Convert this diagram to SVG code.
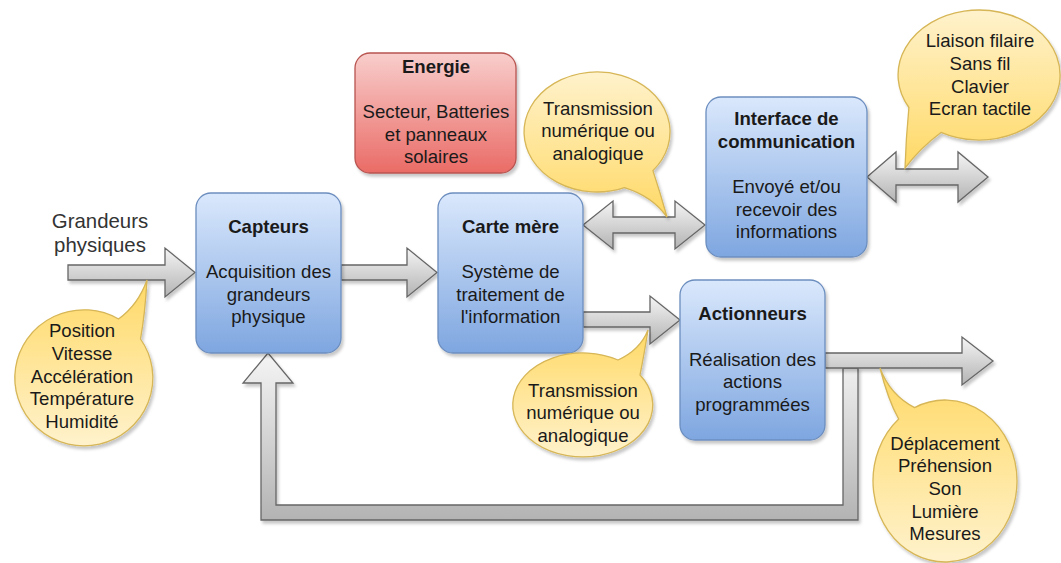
<svg xmlns="http://www.w3.org/2000/svg" width="1061" height="563" viewBox="0 0 1061 563">
<defs>
<linearGradient id="gBlue" x1="0" y1="0" x2="0" y2="1"><stop offset="0" stop-color="#dae8fc"/><stop offset="1" stop-color="#7ea6e0"/></linearGradient>
<linearGradient id="gRed" x1="0" y1="0" x2="0" y2="1"><stop offset="0" stop-color="#f8cecc"/><stop offset="1" stop-color="#ea6b66"/></linearGradient>
<linearGradient id="gGrey" x1="0" y1="0" x2="0" y2="1"><stop offset="0" stop-color="#f5f5f5"/><stop offset="1" stop-color="#b3b3b3"/></linearGradient>
<linearGradient id="gYelDown" x1="0" y1="0" x2="0" y2="1"><stop offset="0" stop-color="#ffd966"/><stop offset="1" stop-color="#fff2cc"/></linearGradient>
<linearGradient id="gYelUp" x1="0" y1="1" x2="0" y2="0"><stop offset="0" stop-color="#ffd966"/><stop offset="1" stop-color="#fff2cc"/></linearGradient>
<filter id="sh" x="-10%" y="-10%" width="130%" height="130%"><feDropShadow dx="2" dy="3" stdDeviation="1.5" flood-color="#000" flood-opacity="0.22"/></filter>
</defs>
<style>
.box{fill:url(#gBlue);stroke:#6c8ebf;stroke-width:1.3;filter:url(#sh)}
.red{fill:url(#gRed);stroke:#b85450;stroke-width:1.3;filter:url(#sh)}
.arr{fill:url(#gGrey);stroke:#666666;stroke-width:1.3;stroke-linejoin:miter;filter:url(#sh)}
.bub{stroke:#d6b656;stroke-width:1.3;filter:url(#sh)}
text{font-family:"Liberation Sans",Arial,sans-serif;font-size:18.6px;fill:#1a1a1a;text-anchor:middle}
.b{font-weight:bold}
.lbl{font-size:20.4px;fill:#333333}
</style>
<rect width="1061" height="563" fill="#ffffff"/>

<g id="connectors">
<polygon class="arr" points="843,368 843,505 276,505 276,383 293,383 268,353 243,383 261,383 261,520 858,520 858,368"/>
<polygon class="arr" points="68,265 165,265 165,248 195,272.5 165,297 165,280 68,280"/>
<polygon class="arr" points="341,265 407,265 407,248 437,272.5 407,297 407,280 341,280"/>
<polygon class="arr" points="583,225 613,201 613,217 675,217 675,201 705,225 675,249 675,233 613,233 613,249"/>
<polygon class="arr" points="867,177 896,152 896,169 958,169 958,152 988,177 958,202 958,185 896,185 896,202"/>
<polygon class="arr" points="583,312 650,312 650,296 680,320 650,344 650,327 583,327"/>
<polygon class="arr" points="825,353 962,353 962,337 993,361 962,385 962,368 825,368"/>
</g>

<g id="label-grandeurs">
<text class="lbl" x="100" y="228">Grandeurs</text>
<text class="lbl" x="100" y="252">physiques</text>
</g>

<g id="node-energie">
<rect class="red" x="355" y="53" width="161" height="120" rx="15"/>
<text class="b" x="436" y="73">Energie</text>
<text x="436" y="118">Secteur, Batteries</text>
<text x="436" y="141">et panneaux</text>
<text x="436" y="163">solaires</text>
</g>

<g id="node-capteurs">
<rect class="box" x="196" y="193" width="145" height="160" rx="15"/>
<text class="b" x="268.5" y="233">Capteurs</text>
<text x="268.5" y="278">Acquisition des</text>
<text x="268.5" y="301">grandeurs</text>
<text x="268.5" y="323">physique</text>
</g>

<g id="node-carte">
<rect class="box" x="438" y="193" width="145" height="160" rx="15"/>
<text class="b" x="510.5" y="233">Carte mère</text>
<text x="510.5" y="278">Système de</text>
<text x="510.5" y="301">traitement de</text>
<text x="510.5" y="323">l'information</text>
</g>

<g id="node-interface">
<rect class="box" x="706" y="97" width="161" height="160" rx="15"/>
<text class="b" x="786.5" y="125">Interface de</text>
<text class="b" x="786.5" y="148">communication</text>
<text x="786.5" y="193">Envoyé et/ou</text>
<text x="786.5" y="216">recevoir des</text>
<text x="786.5" y="238">informations</text>
</g>

<g id="node-actionneurs">
<rect class="box" x="680" y="280" width="145" height="160" rx="15"/>
<text class="b" x="752.5" y="320">Actionneurs</text>
<text x="752.5" y="366">Réalisation des</text>
<text x="752.5" y="388">actions</text>
<text x="752.5" y="411">programmées</text>
</g>

<g id="callout-grandeurs">
<path class="bub" fill="url(#gYelDown)" d="M118.5,319 Q138,305 147,280 Q145,314 140.5,339 A69,68 0 1 1 118.5,319 Z"/>
<text x="82" y="337">Position</text>
<text x="82" y="360">Vitesse</text>
<text x="82" y="383">Accélération</text>
<text x="82" y="405">Température</text>
<text x="82" y="428">Humidité</text>
</g>

<g id="callout-transmission-top">
<path class="bub" fill="url(#gYelUp)" d="M624.4,187.6 Q652,196 667,217 Q660,192 652.9,170.6 A73,60 0 1 0 624.4,187.6 Z"/>
<text x="598" y="115">Transmission</text>
<text x="598" y="137">numérique ou</text>
<text x="598" y="160">analogique</text>
</g>

<g id="callout-liaison">
<path class="bub" fill="url(#gYelUp)" d="M941,132.4 Q920,148 905,168 Q906,138 908.9,107.5 A81,65 0 1 1 941,132.4 Z"/>
<text x="980" y="47">Liaison filaire</text>
<text x="980" y="70">Sans fil</text>
<text x="980" y="93">Clavier</text>
<text x="980" y="115">Ecran tactile</text>
</g>

<g id="callout-transmission-bottom">
<path class="bub" fill="url(#gYelDown)" d="M618,360 Q640,350 648,330 Q644,355 640,375 A70,52 0 1 1 618,360 Z"/>
<text x="583" y="397">Transmission</text>
<text x="583" y="419">numérique ou</text>
<text x="583" y="442">analogique</text>
</g>

<g id="callout-deplacement">
<path class="bub" fill="url(#gYelDown)" d="M914.6,407.6 Q890,395 880,368 Q888,400 898.7,419 A72,81 0 1 0 914.6,407.6 Z"/>
<text x="945" y="450">Déplacement</text>
<text x="945" y="472">Préhension</text>
<text x="945" y="495">Son</text>
<text x="945" y="518">Lumière</text>
<text x="945" y="540">Mesures</text>
</g>
</svg>
